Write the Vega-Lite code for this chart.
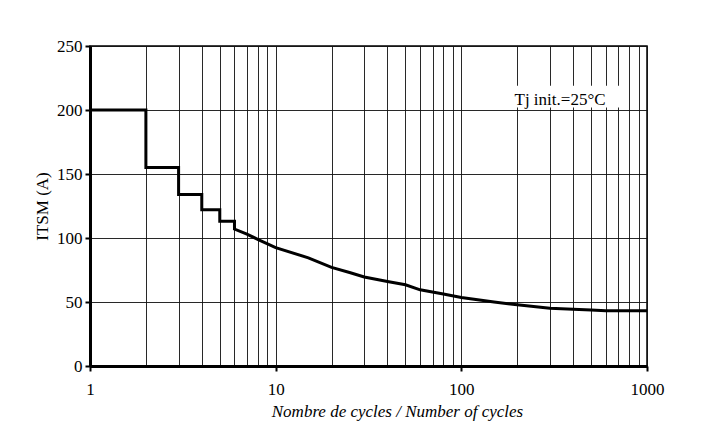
{
  "$schema": "https://vega.github.io/schema/vega-lite/v6.json",
  "width": 557,
  "height": 320,
  "autosize": {"type": "none"},
  "padding": {"left": 90, "top": 46, "right": 54, "bottom": 62},
  "background": "white",
  "config": {
    "font": "Liberation Serif",
    "view": {"stroke": "#000", "strokeWidth": 1.5},
    "axis": {
      "domainColor": "#000", "domainWidth": 3,
      "tickColor": "#000", "tickWidth": 2, "tickSize": 5,
      "labelFont": "Liberation Serif", "labelFontSize": 17, "labelColor": "#000",
      "titleFont": "Liberation Serif", "titleFontSize": 17, "titleFontWeight": "normal", "titleColor": "#000",
      "gridColor": "#111", "gridWidth": 1, "gridOpacity": 0.9,
      "labelPadding": 3
    }
  },
  "layer": [
    {
      "data": {"values": [
        {"i": 0, "n": 1, "v": 200},
        {"i": 1, "n": 2, "v": 200},
        {"i": 2, "n": 2, "v": 155},
        {"i": 3, "n": 3, "v": 155},
        {"i": 4, "n": 3, "v": 134},
        {"i": 5, "n": 4, "v": 134},
        {"i": 6, "n": 4, "v": 122},
        {"i": 7, "n": 5, "v": 122},
        {"i": 8, "n": 5, "v": 113},
        {"i": 9, "n": 6, "v": 113},
        {"i": 10, "n": 6, "v": 107},
        {"i": 11, "n": 7, "v": 103},
        {"i": 12, "n": 8, "v": 99},
        {"i": 13, "n": 10, "v": 92.5},
        {"i": 14, "n": 15, "v": 84.5},
        {"i": 15, "n": 20, "v": 77},
        {"i": 16, "n": 25, "v": 73},
        {"i": 17, "n": 30, "v": 69.5},
        {"i": 18, "n": 40, "v": 66},
        {"i": 19, "n": 50, "v": 63.5},
        {"i": 20, "n": 60, "v": 59.5},
        {"i": 21, "n": 80, "v": 56.2},
        {"i": 22, "n": 100, "v": 53.5},
        {"i": 23, "n": 150, "v": 50},
        {"i": 24, "n": 200, "v": 47.8},
        {"i": 25, "n": 300, "v": 45.2},
        {"i": 26, "n": 400, "v": 44.3},
        {"i": 27, "n": 500, "v": 43.8},
        {"i": 28, "n": 600, "v": 43.2},
        {"i": 29, "n": 1000, "v": 43.2}
      ]},
      "mark": {"type": "line", "color": "#000", "strokeWidth": 3, "strokeJoin": "miter", "strokeCap": "butt"},
      "encoding": {
        "x": {
          "field": "n", "type": "quantitative",
          "scale": {"type": "log", "domain": [1, 1000], "nice": false},
          "axis": {
            "title": "Nombre de cycles / Number of cycles",
            "titleFontStyle": "italic",
            "titleX": 307, "titleY": 50, "titleBaseline": "alphabetic", "titleAlign": "center",
            "values": [1,2,3,4,5,6,7,8,9,10,20,30,40,50,60,70,80,90,100,200,300,400,500,600,700,800,900,1000],
            "grid": true,
            "labelOverlap": false,
            "labelBound": false,
            "labelFlush": false,
            "labelPadding": 10,
            "labelExpr": "(datum.value == 1 || datum.value == 10 || datum.value == 100 || datum.value == 1000) ? format(datum.value, 'd') : ''",
            "tickOpacity": {"condition": {"test": "datum.value == 1 || datum.value == 10 || datum.value == 100 || datum.value == 1000", "value": 1}, "value": 0}
          }
        },
        "y": {
          "field": "v", "type": "quantitative",
          "scale": {"domain": [0, 250], "nice": false},
          "axis": {
            "title": "ITSM (A)",
            "values": [0, 50, 100, 150, 200, 250],
            "grid": true,
            "titleX": -48, "titleY": 160, "titleBaseline": "middle", "titleAlign": "center"
          }
        },
        "order": {"field": "i", "type": "quantitative"}
      }
    },
    {
      "data": {"values": [{"n": 183, "n2": 741, "v": 202, "v2": 219}]},
      "mark": {"type": "rect", "fill": "white"},
      "encoding": {
        "x": {"field": "n", "type": "quantitative"},
        "x2": {"field": "n2"},
        "y": {"field": "v", "type": "quantitative"},
        "y2": {"field": "v2"}
      }
    },
    {
      "data": {"values": [{"n": 340, "v": 204, "t": "Tj init.=25°C"}]},
      "mark": {"type": "text", "fontSize": 17, "align": "center", "baseline": "alphabetic", "color": "#000", "font": "Liberation Serif"},
      "encoding": {
        "x": {"field": "n", "type": "quantitative"},
        "y": {"field": "v", "type": "quantitative"},
        "text": {"field": "t"}
      }
    }
  ]
}
